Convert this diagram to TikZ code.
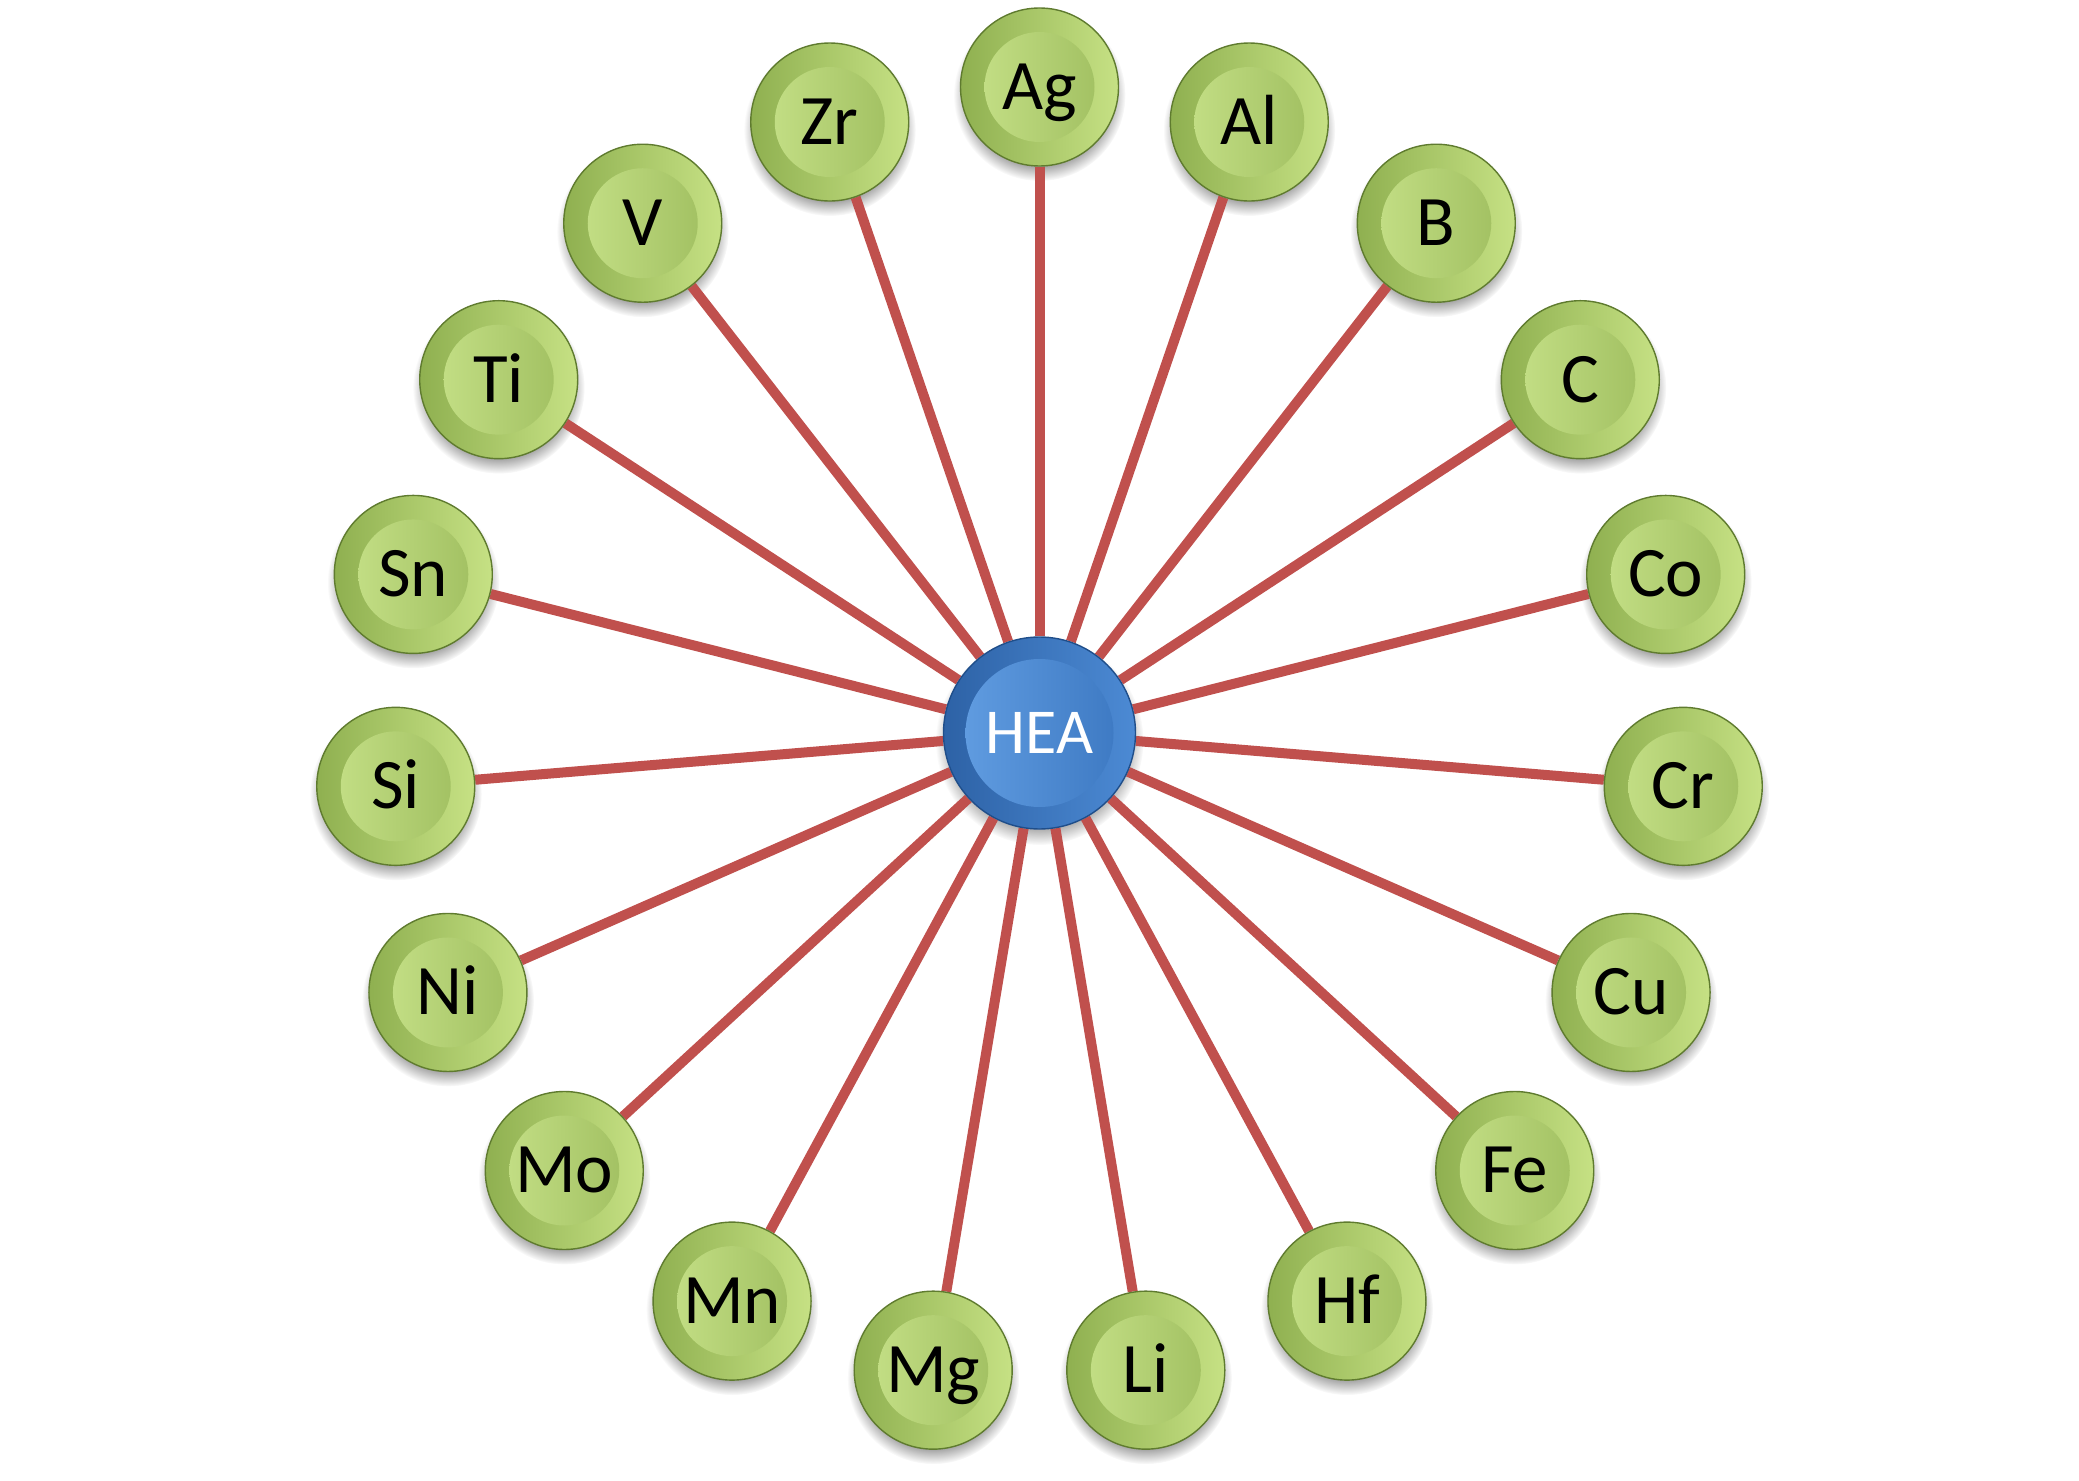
\documentclass[tikz,border=0pt]{standalone}
\usepackage{fontspec}
\setmainfont{Carlito}
\usetikzlibrary{fadings}
\pgfdeclarelayer{shadowl}
\pgfdeclarelayer{linel}
\pgfsetlayers{shadowl,linel,main}
\definecolor{linered}{HTML}{C0504D}
\definecolor{gedge}{HTML}{5F7B2F}
\definecolor{gdark}{HTML}{8FB050}
\definecolor{glight}{HTML}{C6E184}
\definecolor{gmid}{HTML}{A2C262}
\definecolor{ginl}{HTML}{C8E38A}
\definecolor{ginm}{HTML}{A7C667}
\definecolor{ginr}{HTML}{9DBC5D}
\definecolor{bedge}{HTML}{1F4E8A}
\definecolor{bdark}{HTML}{2D62A6}
\definecolor{blight}{HTML}{4C8AD4}
\definecolor{binl}{HTML}{64A0E4}
\definecolor{binm}{HTML}{3F7DC9}
\definecolor{binr}{HTML}{3A76C0}
\tikzset{
  elem/.style={circle, minimum size=79pt, inner sep=0pt, draw=gedge, line width=0.7pt,
    left color=gdark, middle color=gmid, right color=glight,
    text height=22.4pt, text depth=0pt, text=black,
    font=\fontsize{35.5}{40}\selectfont,
    path picture={\shade[left color=ginl, middle color=ginm, right color=ginr]
      (path picture bounding box.center) circle (27.5pt);}},
  hub/.style={circle, minimum size=96pt, inner sep=0pt, draw=bedge, line width=0.7pt,
    left color=bdark, middle color=binm, right color=blight,
    text height=20.2pt, text depth=0pt, text=white,
    font=\fontsize{32}{38}\selectfont,
    path picture={\shade[left color=binl, middle color=binm, right color=binr]
      (path picture bounding box.center) circle (37pt);}},
  conn/.style={draw=linered, line width=5pt},
  shadowdisc/.style={fill=black, opacity=0.4, path fading=circle with fuzzy edge 20 percent}
}
\begin{document}
\begin{tikzpicture}[x=0.5pt,y=-0.5pt]
\useasboundingbox (0,0) rectangle (2079,1481);
\node[hub] (hea) at (1039.5,733) {HEA};
\begin{pgfonlayer}{shadowl}
  \fill[shadowdisc] ([yshift=-4pt]hea.center) circle (52pt);
\end{pgfonlayer}
\foreach \name [count=\i from 0] in {Ag,Zr,V,Ti,Sn,Si,Ni,Mo,Mn,Mg,Li,Hf,Fe,Cu,Cr,Co,C,B,Al} {
  \pgfmathsetmacro\a{90+\i*360/19}
  \node[elem] (n\name) at ({1039.5+646*cos(\a)},{733-646*sin(\a)}) {\name};
  \begin{pgfonlayer}{shadowl}
    \fill[shadowdisc] ([yshift=-4pt]n\name.center) circle (43pt);
  \end{pgfonlayer}
  \begin{pgfonlayer}{linel}
    \draw[conn] (hea) -- (n\name);
  \end{pgfonlayer}
}
\end{tikzpicture}
\end{document}
